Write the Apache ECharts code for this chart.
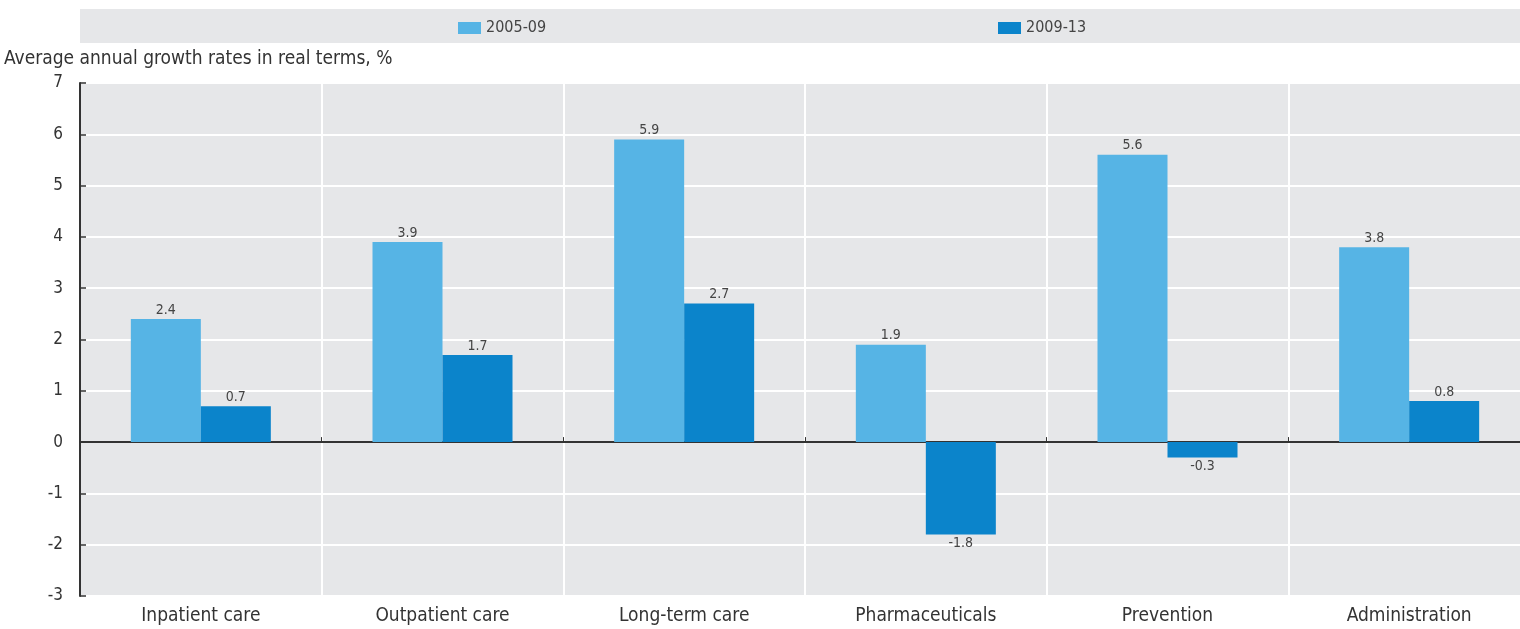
<!DOCTYPE html>
<html>
<head>
<meta charset="utf-8">
<script src="https://cdn.jsdelivr.net/npm/echarts@6/dist/echarts.min.js"></script>
<style>
  html, body { margin: 0; padding: 0; background: #fff; }
  #chart { width: 1520px; height: 629px; }
</style>
</head>
<body>
<div id="chart"></div>
<script>
const categories = ['Inpatient care', 'Outpatient care', 'Long-term care', 'Pharmaceuticals', 'Prevention', 'Administration']
const seriesNames = ['2005-09', '2009-13']
const growth0509 = [2.4, 3.9, 5.9, 1.9, 5.6, 3.8]
const growth0913 = [0.7, 1.7, 2.7, -1.8, -0.3, 0.8]
const yTicks = { min: -3, max: 7, step: 1 }

const font = "'Liberation Sans Narrow', 'DejaVu Sans Condensed', sans-serif"
const lightBlue = '#56b4e5'
const darkBlue = '#0b84cb'

// negative bars get their label underneath
const withLabels = (arr) => arr.map((v) => (v < 0 ? { value: v, label: { position: 'bottom' } } : v))

const chart = echarts.init(document.getElementById('chart'))

const legendBase = {
  top: 15,
  icon: 'rect',
  itemWidth: 23,
  itemHeight: 12,
  itemGap: 10,
  textStyle: { fontSize: 16, color: '#444', fontFamily: font },
}

chart.setOption({
  animation: false,
  textStyle: { fontFamily: font },
  title: {
    text: 'Average annual growth rates in real terms, %',
    left: 4,
    top: 50,
    padding: 0,
    textStyle: { fontSize: 19, fontWeight: 'normal', color: '#333', fontFamily: font },
  },
  graphic: [
    {
      type: 'rect',
      shape: { x: 80, y: 9, width: 1440, height: 34 },
      style: { fill: '#e6e7e9' },
      z: -1,
    },
  ],
  legend: [
    { ...legendBase, data: [seriesNames[0]], left: 453 },
    { ...legendBase, data: [seriesNames[1]], left: 993 },
  ],
  grid: {
    left: 80,
    width: 1450,
    top: 83,
    bottom: 33,
    outerBoundsMode: 'none',
    show: true,
    backgroundColor: '#e6e7e9',
    borderWidth: 0,
  },
  xAxis: [
    {
      type: 'category',
      data: categories,
      position: 'bottom',
      axisLine: { show: false, onZero: false },
      axisTick: { show: false },
      axisLabel: { fontSize: 19, color: '#333', margin: 11, fontFamily: font },
      splitLine: { show: true, lineStyle: { color: '#fff', width: 2 } },
    },
    {
      // zero line with the small separator ticks
      type: 'category',
      data: categories,
      position: 'top',
      axisLine: { show: true, onZero: true, lineStyle: { color: '#333', width: 2 } },
      axisTick: { show: true, length: 5, lineStyle: { color: '#333', width: 1 } },
      axisLabel: { show: false },
      splitLine: { show: false },
    },
  ],
  yAxis: {
    type: 'value',
    min: yTicks.min,
    max: yTicks.max,
    interval: yTicks.step,
    axisLine: { show: true, lineStyle: { color: '#333', width: 2 } },
    axisTick: { show: true, inside: true, length: 6, lineStyle: { color: '#333', width: 1.5 } },
    axisLabel: { fontSize: 17, color: '#333', margin: 17, fontFamily: font },
    splitLine: { show: true, lineStyle: { color: '#fff', width: 2 } },
  },
  series: [
    {
      name: seriesNames[0],
      type: 'bar',
      xAxisIndex: 0,
      data: withLabels(growth0509),
      itemStyle: { color: lightBlue },
      barWidth: 70,
      barGap: '0%',
      label: { show: true, position: 'top', distance: 2, fontSize: 14, color: '#444', fontFamily: font, formatter: (p) => p.value.toFixed(1) },
    },
    {
      name: seriesNames[1],
      type: 'bar',
      xAxisIndex: 0,
      data: withLabels(growth0913),
      itemStyle: { color: darkBlue },
      barWidth: 70,
      barGap: '0%',
      label: { show: true, position: 'top', distance: 2, fontSize: 14, color: '#444', fontFamily: font, formatter: (p) => p.value.toFixed(1) },
    },
  ],
})
</script>
</body>
</html>
